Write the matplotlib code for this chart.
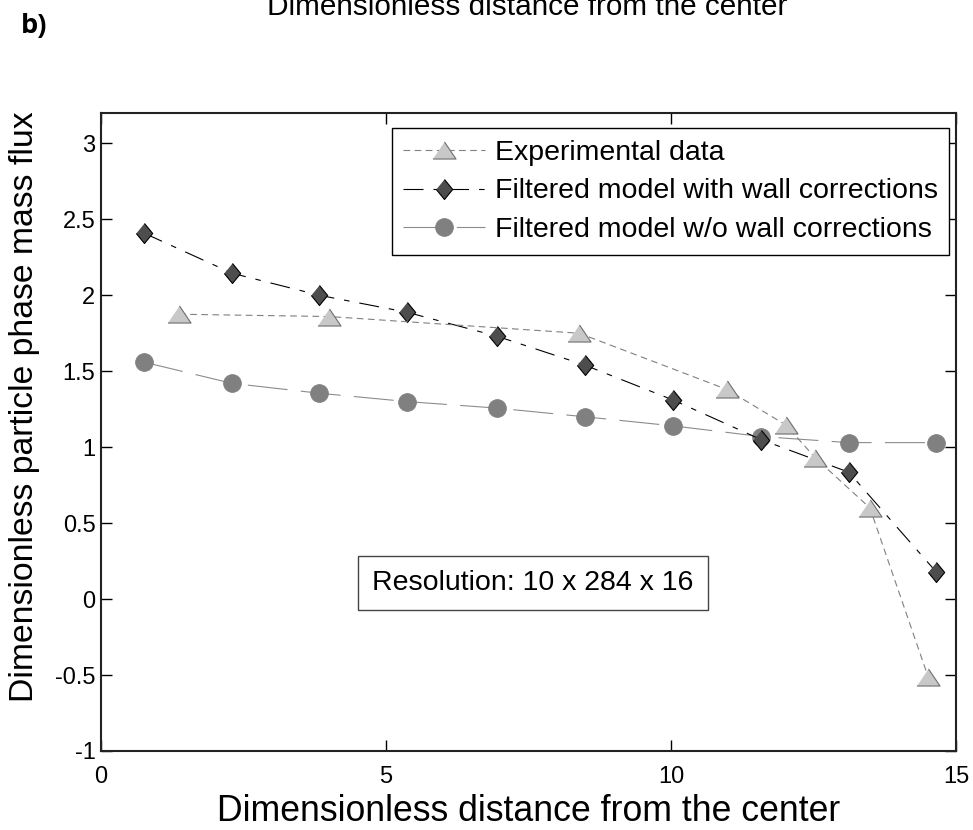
import numpy as np
import matplotlib
matplotlib.use("Agg")
import matplotlib.pyplot as plt

plt.rcParams['font.family'] = ['Liberation Sans', 'DejaVu Sans']

# experimental mass flux profile
x_exp = [1.37, 4.00, 8.39, 10.98, 12.02, 12.53, 13.49, 14.51]
y_exp = [1.875, 1.86, 1.75, 1.38, 1.145, 0.93, 0.60, -0.51]

# filtered model, same grid for both runs
x_mod = [0.75, 2.30, 3.83, 5.37, 6.95, 8.49, 10.04, 11.58, 13.12, 14.65]
y_wall = [2.41, 2.145, 2.00, 1.888, 1.73, 1.54, 1.31, 1.05, 0.835, 0.18]
y_nowall = [1.56, 1.42, 1.355, 1.30, 1.257, 1.20, 1.14, 1.07, 1.03, 1.03]

labels = ['Experimental data',
          'Filtered model with wall corrections',
          'Filtered model w/o wall corrections']

# flattened triangle and narrow diamond markers
tri = [(-1, -0.74), (1, -0.74), (0, 0.74)]
dia = [(0, 1), (0.82, 0), (0, -1), (-0.82, 0)]

fig = plt.figure(figsize=(9.73, 8.3), dpi=100)
ax = fig.add_axes([0.1038, 0.0952, 0.8787, 0.7687])

ax.plot(x_mod, y_nowall, color='#8c8c8c', lw=0.8, dashes=(36, 12),
        marker='o', ms=12.7, mfc='#808080', mec='#808080', mew=0.7,
        label=labels[2], zorder=2)
ax.plot(x_mod, y_wall, color='black', lw=0.8, dashes=(18, 9, 5, 9),
        marker=dia, ms=14.4, mfc='#4d4d4d', mec='black', mew=0.8,
        label=labels[1], zorder=3)
ax.plot(x_exp, y_exp, color='#808080', lw=0.8, dashes=(6, 4),
        marker=tri, ms=16.6, mfc='#c8c8c8', mec='#6e6e6e', mew=0.8,
        label=labels[0], zorder=4)

ax.set_xlim(0, 15)
ax.set_ylim(-1, 3.2)
ax.set_xticks([0, 5, 10, 15])
ax.set_yticks(np.arange(-1, 3.01, 0.5))
ax.set_yticklabels(['-1', '-0.5', '0', '0.5', '1', '1.5', '2', '2.5', '3'])
ax.tick_params(direction='in', length=8, width=1, top=True, right=True,
               labelsize=17)
ax.tick_params(axis='x', pad=11)
ax.tick_params(axis='y', pad=4)
for s in ax.spines.values():
    s.set_linewidth(1.5)
    s.set_color('#222222')

ax.set_xlabel('Dimensionless distance from the center', fontsize=25.7, labelpad=4)
ax.set_ylabel('Dimensionless particle phase mass flux', fontsize=24.3)
ax.yaxis.set_label_coords(-0.071, 0.54)

h, l = ax.get_legend_handles_labels()
leg = ax.legend(h[::-1], l[::-1], loc='upper right',
                bbox_to_anchor=(0.9918, 0.976), borderaxespad=0,
                fontsize=20.5, handlelength=2.85, handletextpad=0.35,
                labelspacing=0.45, borderpad=0.4, fancybox=False,
                framealpha=1, edgecolor='black')
leg.get_frame().set_linewidth(1.0)

ax.text(7.58, 0.105, 'Resolution: 10 x 284 x 16', fontsize=20.5,
        ha='center', va='center',
        bbox=dict(boxstyle='square,pad=0.5', fc='white', ec='#444444', lw=1.0))

fig.text(0.5416, 1 - 15 / 830, 'Dimensionless distance from the center',
         fontsize=21.4, ha='center', va='baseline')
fig.text(0.021, 1 - 33 / 830, 'b)', fontsize=19.5, fontweight='bold',
         family=['Open Sans', 'DejaVu Sans'], ha='left', va='baseline')

fig.savefig('out.png', dpi=100)
